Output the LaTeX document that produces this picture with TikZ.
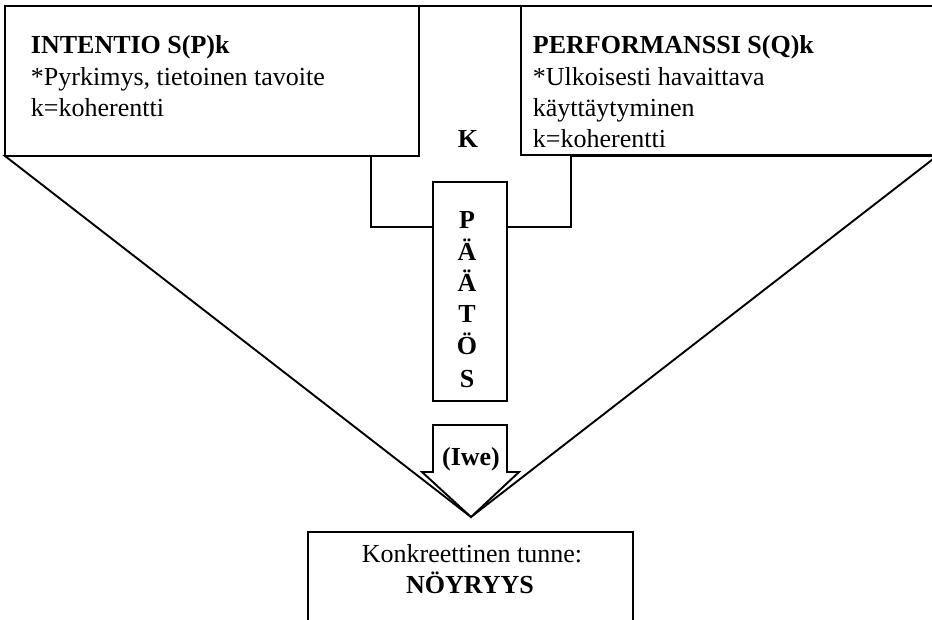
\documentclass[tikz,border=0pt]{standalone}
\usepackage{fontspec}
\setmainfont{Liberation Serif}
\begin{document}
\begin{tikzpicture}[x=1pt, y=-1pt, line width=1.9pt, line join=miter,
  panel/.style={draw, fill=white, inner sep=0pt, outer sep=0pt, anchor=north west},
  txt/.style={inner sep=0pt, anchor=base west, font=\fontsize{26}{31}\selectfont},
  boldtxt/.style={txt, font=\fontsize{26}{31}\selectfont\bfseries},
  mid/.style={anchor=base},
  ]
\useasboundingbox (0,0) rectangle (932,620);
\clip (0,0) rectangle (932,620);
\fill[white] (0,0) rectangle (932,620);

% large funnel gathering both sides
\draw (5,156) -- (937,156) -- (471,517) -- cycle;

% body of the central K arrow
\draw[fill=white] (371,6) rectangle (571,227);

% intention and performance panels
\node[panel, minimum width=414pt, minimum height=150pt] (intentio) at (5,6) {};
\node[panel, minimum width=420pt, minimum height=149pt] (perf) at (521,6) {};

\node[boldtxt] (i1) at (30,54) {INTENTIO S(P)k};
\node[txt] (i2) at (30,86) {*Pyrkimys, tietoinen tavoite};
\node[txt] (i3) at (30,117) {k=koherentti};

\node[boldtxt] (p1) at (532,54) {PERFORMANSSI S(Q)k};
\node[txt] (p2) at (532,86) {*Ulkoisesti havaittava};
\node[txt] (p3) at (532,117) {käyttäytyminen};
\node[txt] (p4) at (532,148) {k=koherentti};

\node[boldtxt, mid] (k) at (468,148) {K};

% decision column
\node[panel, minimum width=74pt, minimum height=219pt] (paatos) at (433,182) {};
\foreach \ch/\yy [count=\n] in {P/229, Ä/261, Ä/292, T/323, Ö/355, S/387}
  \node[boldtxt, mid] (ch\n) at (467,\yy) {\ch};

% (Iwe) arrow into the apex
\draw[fill=white] (433,425) -- (507,425) -- (507,472) -- (519,472)
  -- (471,517) -- (422,472) -- (433,472) -- cycle;
\node[boldtxt, mid] (iwe) at (471,465) {(Iwe)};

% resulting concrete emotion
\node[panel, minimum width=325pt, minimum height=120pt] (tunne) at (308,532) {};
\node[txt, mid] (t1) at (472,562) {Konkreettinen tunne:};
\node[boldtxt, mid] (t2) at (470,593) {NÖYRYYS};
\end{tikzpicture}
\end{document}
